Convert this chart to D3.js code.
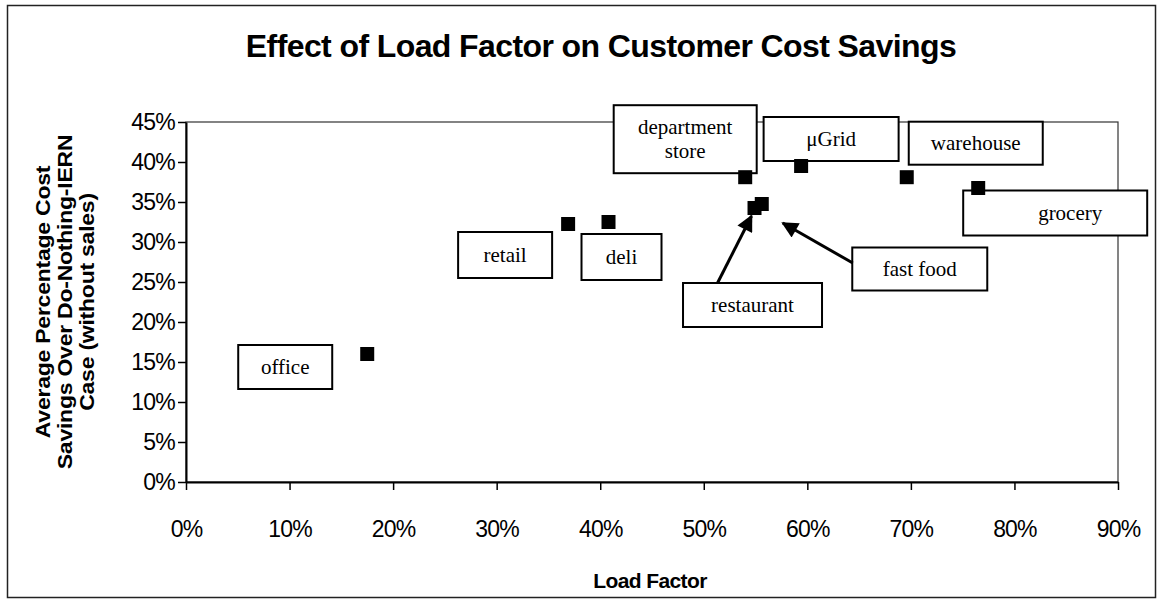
<!DOCTYPE html>
<html>
<head>
<meta charset="utf-8">
<title>Load Factor vs Cost Savings</title>
<style>
    body { margin: 0; background: #fff; }
    svg { display: block; }
    .tick text { font-family: "Liberation Sans", Arial, sans-serif; font-size: 23px; fill: #000; letter-spacing: -0.8px; }
    .callout text { font-family: "Liberation Serif", "Times New Roman", serif; font-size: 21px; fill: #000; }
</style>
</head>
<body>
<svg id="chart"></svg>
<script src="https://d3js.org/d3.v7.min.js"></script>
<script>

    // data
    const names = ["office", "retail", "deli", "department store", "restaurant", "fast food", "\u03bcGrid", "warehouse", "grocery"];
    const loadFactor = [0.175, 0.369, 0.408, 0.540, 0.549, 0.556, 0.594, 0.696, 0.765];
    const savings = [0.160, 0.3225, 0.325, 0.381, 0.3425, 0.3475, 0.395, 0.381, 0.3675];
    const xTicks = [0, 0.1, 0.2, 0.3, 0.4, 0.5, 0.6, 0.7, 0.8, 0.9];
    const yTicks = [0, 0.05, 0.1, 0.15, 0.2, 0.25, 0.3, 0.35, 0.4, 0.45];
    const yTitle = ["Average Percentage Cost", "Savings Over Do-Nothing-IERN", "Case (without sales)"];

    // callout boxes, pixel offsets of box centre from the point
    const labelLayout = {
        "office":           {dx: -82,  dy: 13,  w: 94,  h: 44, tx: 0},
        "retail":           {dx: -63,  dy: 31,  w: 94,  h: 46, tx: 0},
        "deli":             {dx: 13,   dy: 35,  w: 80,  h: 46, tx: 0},
        "department store": {dx: -60,  dy: -38, w: 143, h: 68, tx: 0},
        "restaurant":       {dx: -2,   dy: 97,  w: 139, h: 44, tx: 0},
        "fast food":        {dx: 158,  dy: 65,  w: 135, h: 43, tx: 0},
        "\u03bcGrid":       {dx: 30,   dy: -27, w: 135, h: 44, tx: 0},
        "warehouse":        {dx: 69,   dy: -34, w: 134, h: 43, tx: 0},
        "grocery":          {dx: 77,   dy: 25,  w: 184, h: 45, tx: 15}
    };
    // arrows: from box (offset from box centre) to point (offset from point)
    const arrows = {
        "restaurant": {bx: -35, by: -22, px: -3, py: 8},
        "fast food":  {bx: -67, by: -6,  px: 21, py: 19}
    };

    const svgWidth = 1160, svgHeight = 604;
    const margin = {top: 122, right: 42, bottom: 122, left: 186};
    const width = svgWidth - margin.left - margin.right;
    const height = svgHeight - margin.top - margin.bottom;

    const svg = d3.select("#chart")
        .attr("width", svgWidth)
        .attr("height", svgHeight);

    // outer frame
    svg.append("rect")
        .attr("x", 7.5).attr("y", 5.5)
        .attr("width", 1148).attr("height", 592)
        .attr("fill", "none")
        .attr("stroke", "#222")
        .attr("stroke-width", 1.5);

    svg.append("text")
        .attr("x", 601)
        .attr("y", 57)
        .attr("text-anchor", "middle")
        .attr("font-family", "Liberation Sans, Arial, sans-serif")
        .attr("font-weight", "bold")
        .attr("font-size", 32)
        .attr("letter-spacing", -0.6)
        .text("Effect of Load Factor on Customer Cost Savings");

    const g = svg.append("g")
        .attr("transform", "translate(" + margin.left + "," + margin.top + ")");

    const x = d3.scaleLinear().domain([0, 0.9]).range([0, width]);
    const y = d3.scaleLinear().domain([0, 0.45]).range([height, 0]);

    // plot frame
    g.append("rect")
        .attr("width", width)
        .attr("height", height)
        .attr("fill", "none")
        .attr("stroke", "#333")
        .attr("stroke-width", 1.2);

    const fmt = d3.format(".0%");

    g.append("g")
        .attr("transform", "translate(0," + height + ")")
        .call(d3.axisBottom(x).tickValues(xTicks).tickFormat(fmt).tickSize(8).tickSizeOuter(0).tickPadding(31))
        .call(a => a.select(".domain").attr("stroke", "#000").attr("stroke-width", 2))
        .call(a => a.selectAll(".tick line").attr("stroke", "#000").attr("stroke-width", 1.5));

    g.append("g")
        .call(d3.axisLeft(y).tickValues(yTicks).tickFormat(fmt).tickSize(8).tickSizeOuter(0).tickPadding(3))
        .call(a => a.select(".domain").attr("stroke", "#000").attr("stroke-width", 2))
        .call(a => a.selectAll(".tick line").attr("stroke", "#000").attr("stroke-width", 1.5));

    svg.append("text")
        .attr("x", 650)
        .attr("y", 588)
        .attr("text-anchor", "middle")
        .attr("font-family", "Liberation Sans, Arial, sans-serif")
        .attr("font-weight", "bold")
        .attr("font-size", 21)
        .attr("letter-spacing", -0.6)
        .text("Load Factor");

    // rotated title: stretched along its length like the scanned original
    const yt = svg.append("text")
        .attr("transform", "translate(50,302) rotate(-90) scale(1.18,1)")
        .attr("text-anchor", "middle")
        .attr("font-family", "Liberation Sans, Arial, sans-serif")
        .attr("font-weight", "bold")
        .attr("font-size", 19.5)
        .attr("letter-spacing", -0.2);
    yt.selectAll("tspan")
        .data(yTitle)
        .enter().append("tspan")
        .attr("x", 0)
        .attr("dy", (d, i) => i === 0 ? 0 : 22)
        .text(d => d);

    const points = names.map((n, i) => ({name: n, x: loadFactor[i], y: savings[i]}));

    // callout boxes
    const callouts = g.selectAll(".callout")
        .data(points)
        .enter().append("g")
        .attr("class", "callout");

    callouts.append("rect")
        .attr("x", d => x(d.x) + labelLayout[d.name].dx - labelLayout[d.name].w / 2)
        .attr("y", d => y(d.y) + labelLayout[d.name].dy - labelLayout[d.name].h / 2)
        .attr("width", d => labelLayout[d.name].w)
        .attr("height", d => labelLayout[d.name].h)
        .attr("fill", "#fff")
        .attr("stroke", "#000")
        .attr("stroke-width", 2);

    callouts.each(function(d) {
        const L = labelLayout[d.name];
        const cx = x(d.x) + L.dx + L.tx, cy = y(d.y) + L.dy;
        const lines = d.name === "department store" ? ["department", "store"] : [d.name];
        const t = d3.select(this).append("text")
            .attr("text-anchor", "middle");
        lines.forEach((s, k) => {
            t.append("tspan")
                .attr("x", cx)
                .attr("y", cy + 7 + (k - (lines.length - 1) / 2) * 24)
                .text(s);
        });
    });

    // arrows
    svg.append("defs").append("marker")
        .attr("id", "head")
        .attr("viewBox", "0 0 10 10")
        .attr("refX", 9).attr("refY", 5)
        .attr("markerWidth", 6).attr("markerHeight", 5.5)
        .attr("orient", "auto")
        .append("path")
        .attr("d", "M0,0 L10,5 L0,10 z")
        .attr("fill", "#000");

    points.filter(d => arrows[d.name]).forEach(d => {
        const L = labelLayout[d.name], A = arrows[d.name];
        g.append("line")
            .attr("x1", x(d.x) + L.dx + A.bx)
            .attr("y1", y(d.y) + L.dy + A.by)
            .attr("x2", x(d.x) + A.px)
            .attr("y2", y(d.y) + A.py)
            .attr("stroke", "#000")
            .attr("stroke-width", 3)
            .attr("marker-end", "url(#head)");
    });

    // markers
    g.selectAll(".pt")
        .data(points)
        .enter().append("rect")
        .attr("class", "pt")
        .attr("x", d => x(d.x) - 7)
        .attr("y", d => y(d.y) - 7)
        .attr("width", 14)
        .attr("height", 14)
        .attr("fill", "#000");

</script>
</body>
</html>
